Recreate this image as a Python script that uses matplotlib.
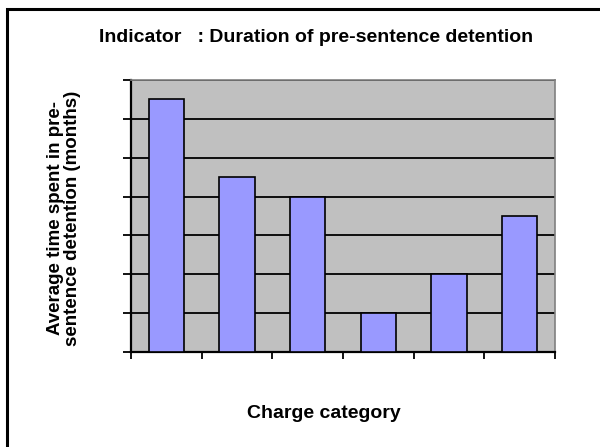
import matplotlib
matplotlib.use("Agg")
import matplotlib.pyplot as plt
from matplotlib.patches import Rectangle

categories = ["1", "2", "3", "4", "5", "6"]
values = [6.5, 4.5, 4.0, 1.0, 2.0, 3.5]
y_max = 7

title = "Indicator   : Duration of pre-sentence detention"
y_label = "Average time spent in pre-\nsentence detention (months)"
x_label = "Charge category"

W, H = 600, 447
fig = plt.figure(figsize=(W / 100, H / 100), dpi=100)
fig.patch.set_facecolor("white")
plt.rcParams['font.family'] = ['Liberation Sans', 'DejaVu Sans']

# outer chart border
fig.patches.append(Rectangle((7 / W, 1 - 453 / H), 600 / W, 444 / H,
                             transform=fig.transFigure, fill=False,
                             edgecolor="black", linewidth=2.2, clip_on=False))

ax = fig.add_axes([131 / W, (H - 352) / H, 424 / W, 272 / H])
ax.set_facecolor("#C0C0C0")

pos = [i + 0.5 for i in range(len(categories))]
ax.set_axisbelow(True)
ax.yaxis.grid(True, color="black", linewidth=1.3)
ax.bar(pos, values, width=0.5, color="#9999FF", edgecolor="black",
       linewidth=1.2, zorder=3)

ax.set_xlim(0, len(categories))
ax.set_ylim(0, y_max)
ax.set_xticks(range(len(categories) + 1))
ax.set_yticks(range(y_max + 1))
ax.set_xticklabels([])
ax.set_yticklabels([])
ax.tick_params(axis="x", direction="out", length=5, width=1.3, color="black")
ax.tick_params(axis="y", direction="out", length=6, width=1.3, color="black")

for s in ["top", "right"]:
    ax.spines[s].set_color("#808080")
    ax.spines[s].set_linewidth(1.2)
for s in ["left", "bottom"]:
    ax.spines[s].set_color("black")
    ax.spines[s].set_linewidth(1.6)

fig.text(316.5 / W, 1 - 37 / H, title, ha="center", va="center",
         fontsize=14, fontweight="bold")
fig.text(64 / W, 1 - 218 / H, y_label, ha="center", va="center",
         rotation=90, fontsize=13.5, fontweight="bold", linespacing=1.0)
fig.text(324 / W, 1 - 414 / H, x_label, ha="center", va="center",
         fontsize=14, fontweight="bold")

fig.savefig("out.png", dpi=100)
